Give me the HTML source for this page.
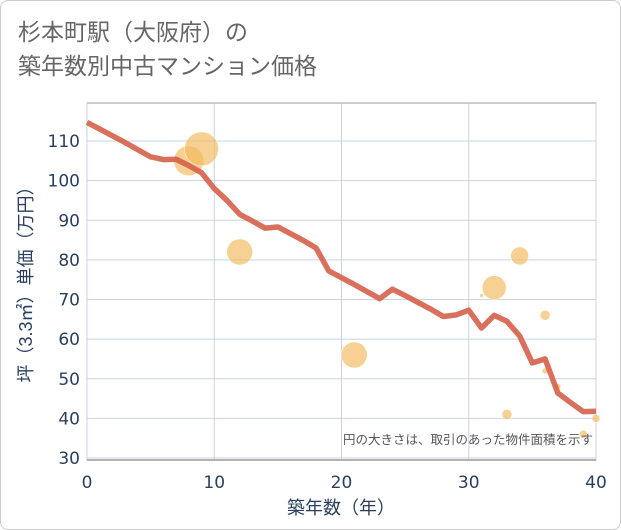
<!DOCTYPE html>
<html><head><meta charset="utf-8"><style>
body{margin:0;background:#fff;}
#wrap{position:relative;width:619px;height:528px;border:1px solid #ccc;border-radius:8px;overflow:hidden;font-family:"Liberation Sans","Noto Sans CJK JP",sans-serif;}
#title{position:absolute;left:17px;top:14px;font-size:23px;line-height:34px;color:#666;}
</style></head><body>
<div id="wrap">
<div id="title">杉本町駅（大阪府）の<br>築年数別中古マンション価格</div>
<svg id="chart" width="621" height="530" style="position:absolute;left:-1px;top:-1px"></svg>
</div>
<script>
const xTicks=[0,10,20,30,40];
const yTicks=[30,40,50,60,70,80,90,100,110];
const lineX=[0,1,2,3,4,5,6,7,8,9,10,11,12,13,14,15,16,17,18,19,20,21,22,23,24,25,26,27,28,29,30,31,32,33,34,35,36,37,38,39,40];
const lineY=[114.7,113,111.3,109.6,107.8,106,105.3,105.4,103.8,102,98,95,91.5,89.8,88,88.3,86.6,84.9,83,77.2,75.5,73.8,72,70.2,72.6,71,69.3,67.6,65.7,66.1,67.3,62.8,66,64.5,60.8,54,55,46.4,44,41.7,41.8];
const bubX=[8,9,12,21,31,32,34,36,36,37,33,39,40];
const bubY=[105,108,82,56,71,73,81,66,52,48,41,36,40];
const bubR=[15,17,13,13,2,12,9,5,3,3,5,4,4];
const NS="http://www.w3.org/2000/svg";
const svg=document.getElementById('chart');
const L=87,R=596,T=103,B=460;
const xs=v=>L+(v-0)/40*(R-L);
const ys=v=>458-(v-30)*3.9625;
function mk(t,a){const e=document.createElementNS(NS,t);for(const k in a)e.setAttribute(k,a[k]);svg.appendChild(e);return e;}
const TF='"DejaVu Sans","Liberation Sans",sans-serif';
const bg=mk('rect',{x:L,y:T,width:R-L,height:B-T,fill:'#fff',stroke:'#999','stroke-width':1});


xTicks.forEach(v=>{
 const g=mk('line',{x1:xs(v),x2:xs(v),y1:T,y2:B,stroke:'#c8d4e3','stroke-width':1});
 
 
 const t=mk('text',{x:xs(v),y:488,'text-anchor':'middle','font-size':17,fill:'#2a3f5f','font-family':TF});
 t.textContent=v;
 
 
});
yTicks.forEach(v=>{
 const g=mk('line',{x1:L,x2:R,y1:ys(v),y2:ys(v),stroke:'#c8d4e3','stroke-width':1});
 
 
 const t=mk('text',{x:80,y:ys(v)+6,'text-anchor':'end','font-size':17,fill:'#2a3f5f','font-family':TF});
 t.textContent=v;
 
 
});
const ax=mk('line',{x1:L,x2:R,y1:B,y2:B,stroke:'#999','stroke-width':1.5});


bubX.forEach((v,i)=>{
 const c=mk('circle',{cx:xs(v),cy:ys(bubY[i]),r:bubR[i],fill:'#f2b85a','fill-opacity':0.65,stroke:'#fff','stroke-width':0.5});
 
 
});
const p=mk('polyline',{points:lineX.map((v,i)=>xs(v)+','+ys(lineY[i])).join(' '),fill:'none',stroke:'#d4604a','stroke-opacity':0.9,'stroke-width':5.5,'stroke-linejoin':'round'});


const note=mk('text',{x:593,y:444,'text-anchor':'end','font-size':12.5,fill:'#555'});
note.textContent='円の大きさは、取引のあった物件面積を示す';


const xt=mk('text',{x:341,y:514,'text-anchor':'middle','font-size':18,fill:'#2a3f5f'});
xt.textContent='築年数（年）';


const yt=mk('text',{x:0,y:0,'text-anchor':'middle','font-size':18,fill:'#2a3f5f',transform:'translate(32,280) rotate(-90)'});
yt.textContent='坪（3.3㎡）単価（万円）';


</script>
</body></html>
